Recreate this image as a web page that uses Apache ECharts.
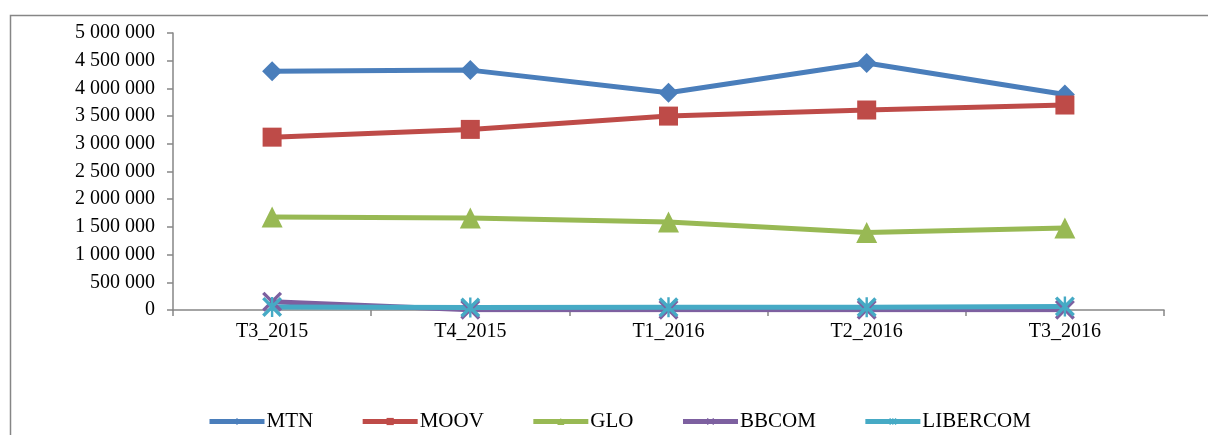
<!DOCTYPE html>
<html>
<head>
<meta charset="utf-8">
<script src="https://cdn.jsdelivr.net/npm/echarts@6/dist/echarts.min.js"></script>
<style>html,body{margin:0;padding:0;background:#fff}#c{width:1208px;height:435px}</style>
</head>
<body>
<div id="c"></div>
<script>
var categories = ['T3_2015', 'T4_2015', 'T1_2016', 'T2_2016', 'T3_2016'];
var mtn = [4310000, 4330000, 3920000, 4460000, 3890000];
var moov = [3120000, 3260000, 3500000, 3610000, 3700000];
var glo = [1680000, 1660000, 1590000, 1400000, 1480000];
var bbcom = [150000, 5000, 5000, 5000, 5000];
var libercom = [55000, 45000, 48000, 50000, 65000];
var yTicks = [0, 500000, 1000000, 1500000, 2000000, 2500000, 3000000, 3500000, 4000000, 4500000, 5000000];

var FONT = '"Liberation Serif", "DejaVu Serif", serif';
var AXIS = '#868686';
var xPath = 'path://M0,1.2 L1.2,0 L10,8.8 L8.8,10 Z M8.8,0 L10,1.2 L1.2,10 L0,8.8 Z';
var starPath = 'path://M0,1.2 L1.2,0 L10,8.8 L8.8,10 Z M8.8,0 L10,1.2 L1.2,10 L0,8.8 Z M4.4,0 L5.6,0 L5.6,10 L4.4,10 Z';

function fmt(v) {
  return String(v).replace(/\B(?=(\d{3})+(?!\d))/g, ' ');
}

function mk(name, data, color, symbol, size) {
  return {
    name: name, type: 'line', data: data, symbol: symbol, symbolSize: size,
    showAllSymbol: true,
    lineStyle: { color: color, width: 5 },
    itemStyle: { color: color },
    emphasis: { disabled: true },
    animation: false
  };
}

var chart = echarts.init(document.getElementById('c'));
chart.setOption({
  animation: false,
  textStyle: { fontFamily: FONT },
  graphic: [{
    type: 'rect', left: 8, top: 13, silent: true,
    shape: { x: 0, y: 0, width: 1300, height: 600 },
    style: { fill: 'none', stroke: AXIS, lineWidth: 1.5 }, z: -1
  }],
  grid: { left: 173, right: 44, top: 33, bottom: 125 },
  legend: {
    left: 202, top: 406, itemWidth: 55, itemHeight: 9, itemGap: 47,
    lineStyle: { width: 5 },
    textStyle: { fontFamily: FONT, fontSize: 21, color: '#000', padding: [0, 0, 0, -3] },
    data: ['MTN', 'MOOV', 'GLO', 'BBCOM', 'LIBERCOM']
  },
  xAxis: {
    type: 'category', data: categories, boundaryGap: true,
    axisLine: { lineStyle: { color: AXIS, width: 1.5 } },
    axisTick: { show: true, length: 6, lineStyle: { color: AXIS, width: 1.5 } },
    axisLabel: { fontFamily: FONT, fontSize: 20, color: '#000', margin: 12 }
  },
  yAxis: {
    type: 'value', min: 0, max: 5000000, interval: 500000,
    splitLine: { show: false },
    axisLine: { show: true, lineStyle: { color: AXIS, width: 1.5 } },
    axisTick: { show: true, length: 6, lineStyle: { color: AXIS, width: 1.5 } },
    axisLabel: {
      fontFamily: FONT, fontSize: 20, color: '#000', margin: 18,
      formatter: function (v) { return yTicks.indexOf(v) >= 0 ? fmt(v) : ''; }
    }
  },
  series: [
    mk('MTN', mtn, '#4A7EBB', 'diamond', 20),
    mk('MOOV', moov, '#BE4B48', 'rect', 19),
    mk('GLO', glo, '#98B954', 'triangle', 21),
    mk('BBCOM', bbcom, '#7D60A0', xPath, 20),
    mk('LIBERCOM', libercom, '#46AAC5', starPath, 20)
  ]
});
</script>
</body>
</html>
